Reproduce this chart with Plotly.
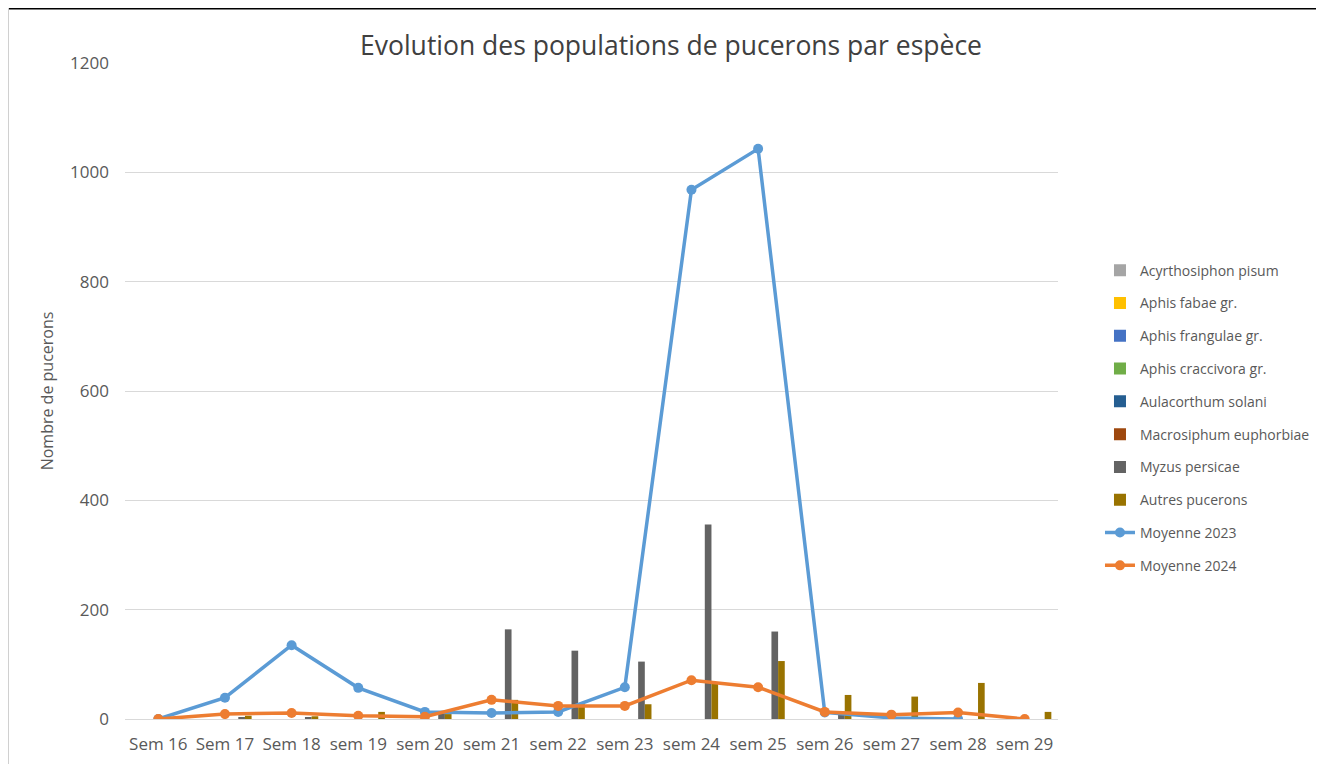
import plotly.graph_objects as go

weeks = ["Sem 16", "Sem 17", "Sem 18", "sem 19", "sem 20", "sem 21", "sem 22",
         "sem 23", "sem 24", "sem 25", "sem 26", "sem 27", "sem 28", "sem 29"]

acyrthosiphon_pisum = [0, 0, 0, 0, 0, 0, 0, 0, 0, 0, 0, 0, 0, 0]
aphis_fabae = [0, 0, 0, 0, 0, 0, 0, 0, 0, 0, 0, 0, 0, 0]
aphis_frangulae = [0, 0, 0, 0, 0, 0, 0, 0, 0, 0, 0, 0, 0, 0]
aphis_craccivora = [0, 0, 0, 0, 0, 0, 0, 0, 0, 0, 0, 0, 0, 0]
aulacorthum_solani = [0, 0, 0, 0, 0, 0, 0, 0, 0, 0, 0, 0, 0, 0]
macrosiphum_euphorbiae = [0, 0, 0, 0, 0, 0, 0, 0, 0, 0, 0, 0, 0, 0]
myzus_persicae = [0, 2, 2, 0, 10, 164, 125, 105, 356, 160, 12, 0, 0, 0]
autres_pucerons = [0, 6, 5, 13, 9, 35, 27, 27, 67, 106, 44, 41, 66, 13]

moyenne_2023 = [0, 39, 135, 57, 13, 11, 13, 58, 968, 1043, 12, 2, 0, None]
moyenne_2024 = [0, 9, 11, 6, 4, 35, 24, 24, 71, 58, 13, 8, 12, 0]

bar_series = [
    ("Acyrthosiphon pisum", acyrthosiphon_pisum, "#A5A5A5"),
    ("Aphis fabae gr.", aphis_fabae, "#FFC000"),
    ("Aphis frangulae gr.", aphis_frangulae, "#4472C4"),
    ("Aphis craccivora gr.", aphis_craccivora, "#70AD47"),
    ("Aulacorthum solani", aulacorthum_solani, "#255E91"),
    ("Macrosiphum euphorbiae", macrosiphum_euphorbiae, "#9E480E"),
    ("Myzus persicae", myzus_persicae, "#636363"),
    ("Autres pucerons", autres_pucerons, "#997300"),
]

fig = go.Figure()
for i, (name, vals, col) in enumerate(bar_series):
    fig.add_trace(go.Bar(x=weeks, y=vals, name=name, marker_color=col,
                         marker_line_width=0, legendgroup=f"g{i}"))

fig.add_trace(go.Scatter(x=weeks, y=moyenne_2023, name="Moyenne 2023",
                         mode="lines+markers", line=dict(color="#5B9BD5", width=3.5),
                         marker=dict(size=10, color="#5B9BD5"), legendgroup="g8"))
fig.add_trace(go.Scatter(x=weeks, y=moyenne_2024, name="Moyenne 2024",
                         mode="lines+markers", line=dict(color="#ED7D31", width=3.5),
                         marker=dict(size=10, color="#ED7D31"), legendgroup="g9"))

W, H = 1316, 756
L, T, B, R = 117, 55, 45, 266
PH = H - T - B
PW = W - L - R

fig.update_layout(
    width=W, height=H,
    paper_bgcolor="white", plot_bgcolor="white",
    margin=dict(l=L, r=R, t=T, b=B, autoexpand=False),
    barmode="group", bargap=0.2, bargroupgap=0,
    font=dict(family="Open Sans, Liberation Sans, sans-serif", color="#595959"),
    title=dict(text="Evolution des populations de pucerons par espèce",
               x=(671 - 8) / W, xanchor="center", y=1 - 38 / H, yanchor="middle",
               font=dict(size=26.5, color="#404040")),
    legend=dict(x=1.045, y=0.708, xanchor="left", yanchor="top",
                font=dict(size=14, color="#595959"),
                traceorder="grouped", tracegroupgap=11.6,
                bgcolor="rgba(0,0,0,0)"),
    xaxis=dict(range=[-0.5, len(weeks) - 0.5], showgrid=False, showline=True,
               linecolor="#D9D9D9", linewidth=1, ticks="", ticklabelstandoff=10,
               tickfont=dict(size=17, color="#595959"), fixedrange=True,
               automargin=False),
    yaxis=dict(range=[0, 1200], dtick=200, showgrid=True, gridcolor="#D9D9D9",
               gridwidth=1, zeroline=False, showline=False, ticks="",
               ticklabelstandoff=15, automargin=False,
               tickfont=dict(size=17, color="#595959"),
               title=dict(text="Nombre de pucerons", font=dict(size=16, color="#595959"),
                          standoff=12)),
)

fig.add_shape(type="line", xref="paper", yref="paper",
              x0=-(L + 8) / PW, x1=(W - L) / PW, y0=1 + (T - 0.75) / PH, y1=1 + (T - 0.75) / PH,
              line=dict(color="black", width=1.5))
fig.add_shape(type="line", xref="paper", yref="paper",
              x0=-(L - 0.5) / PW, x1=-(L - 0.5) / PW, y0=-B / PH, y1=1 + T / PH,
              line=dict(color="#D0D0D0", width=1))

fig.write_html("out.html")
